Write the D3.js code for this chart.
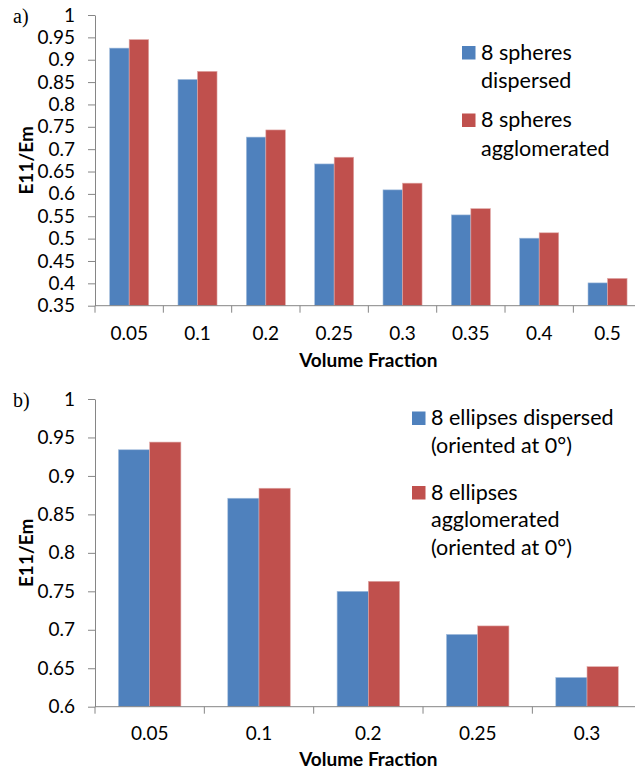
<!DOCTYPE html>
<html lang="en">
<head>
  <style>
    body { margin: 0; background: #fff; }
    svg { display: block; }
    .tick text { font-family: Lato, "Open Sans", sans-serif; font-size: 19px; fill: #000; }
    .axis path, .axis line { stroke: #868686; }
    .axis-title { font-family: Lato, sans-serif; font-size: 19px; font-weight: bold; }
    .panel-label { font-family: "Liberation Serif", serif; font-size: 20px; }
    .legend text { font-family: Lato, sans-serif; font-size: 21.5px; }
  </style>
  <script src="https://d3js.org/d3.v7.min.js"></script>
</head>
<body>
  <script>
    // panel a) spheres
    const catsA = ["0.05", "0.1", "0.2", "0.25", "0.3", "0.35", "0.4", "0.5"];
    const dispersedA = [0.926, 0.856, 0.727, 0.667, 0.609, 0.553, 0.501, 0.401];
    const agglomA = [0.945, 0.874, 0.743, 0.682, 0.624, 0.567, 0.513, 0.411];
    const yTicksA = [0.35, 0.4, 0.45, 0.5, 0.55, 0.6, 0.65, 0.7, 0.75, 0.8, 0.85, 0.9, 0.95, 1];
    const legendA = [["8 spheres", "dispersed"], ["8 spheres", "agglomerated"]];

    // panel b) ellipses
    const catsB = ["0.05", "0.1", "0.2", "0.25", "0.3"];
    const dispersedB = [0.934, 0.871, 0.750, 0.694, 0.638];
    const agglomB = [0.944, 0.884, 0.763, 0.705, 0.652];
    const yTicksB = [0.6, 0.65, 0.7, 0.75, 0.8, 0.85, 0.9, 0.95, 1];
    const legendB = [["8 ellipses dispersed", "(oriented at 0°)"], ["8 ellipses", "agglomerated", "(oriented at 0°)"]];

    const colors = ["#4f81bd", "#c0504d"];
    const strokes = ["#a7c0de", "#e0a9a7"];

    const svg = d3.select("body").append("svg")
      .attr("width", 635)
      .attr("height", 772);

    function drawPanel(o) {
      const g = svg.append("g");
      const x0 = d3.scaleBand().domain(o.cats).range([o.left, o.right]);
      const x1 = d3.scaleBand().domain([0, 1]).range([0, x0.step()]).paddingOuter(0.75);
      const y = d3.scaleLinear().domain([o.yTicks[0], 1]).range([o.bottom, o.top]);

      const rows = o.cats.map((c, i) => ({ cat: c, vals: [o.s1[i], o.s2[i]] }));
      g.selectAll(".grp").data(rows).join("g")
        .attr("transform", d => `translate(${x0(d.cat)},0)`)
        .selectAll("rect").data(d => d.vals.map((v, k) => ({ v, k }))).join("rect")
        .attr("x", d => x1(d.k))
        .attr("width", x1.bandwidth())
        .attr("y", d => y(d.v))
        .attr("height", d => y(o.yTicks[0]) - y(d.v))
        .attr("fill", d => colors[d.k])
        .attr("stroke", d => strokes[d.k])
        .attr("stroke-width", 0.6);

      // y axis
      g.append("g").attr("class", "axis")
        .attr("transform", `translate(${o.left},0)`)
        .call(d3.axisLeft(y).tickValues(o.yTicks).tickSize(7).tickSizeOuter(0).tickPadding(13)
          .tickFormat(d => String(+d.toFixed(2))));

      // x axis: line + boundary ticks + centred labels
      const xa = g.append("g").attr("class", "axis").attr("transform", `translate(0,${o.bottom})`);
      xa.append("line").attr("x1", o.left).attr("x2", o.right).attr("stroke", "#868686");
      const bounds = o.cats.map(c => x0(c)).concat([x0.range()[1]]);
      xa.selectAll(".bt").data(bounds).join("line")
        .attr("x1", d => d).attr("x2", d => d).attr("y1", 0).attr("y2", 7)
        .attr("stroke", "#868686");
      xa.selectAll(".xl").data(o.cats).join("text")
        .attr("x", d => x0(d) + x0.bandwidth() / 2)
        .attr("y", o.xLabelDy)
        .attr("text-anchor", "middle")
        .style("font-family", "Lato, sans-serif").style("font-size", "19px")
        .text(d => d);

      g.append("text").attr("class", "axis-title")
        .attr("x", (o.left + o.right) / 2).attr("y", o.bottom + o.xTitleDy)
        .attr("text-anchor", "middle").text("Volume Fraction");

      g.append("text").attr("class", "axis-title")
        .attr("transform", `translate(33,${(o.top + o.bottom) / 2}) rotate(-90)`)
        .attr("text-anchor", "middle").text("E11/Em");

      g.append("text").attr("class", "panel-label")
        .attr("x", 13).attr("y", o.top + o.labelDy).text(o.label);

      // legend
      const lg = g.append("g").attr("class", "legend");
      o.legend.forEach((lines, k) => {
        const y0 = o.legendY[k];
        lg.append("rect")
          .attr("x", o.legendX).attr("y", y0 - 13.5)
          .attr("width", 13.5).attr("height", 13.5)
          .attr("fill", colors[k]);
        const t = lg.append("text").attr("x", o.legendX + 19).attr("y", y0);
        lines.forEach((s, j) => {
          t.append("tspan").attr("x", o.legendX + 19).attr("dy", j ? o.lineH : 0).text(s);
        });
      });
    }

    drawPanel({
      cats: catsA, s1: dispersedA, s2: agglomA, yTicks: yTicksA, legend: legendA,
      left: 95, right: 641.7, top: 15, bottom: 305.7,
      xLabelDy: 34, xTitleDy: 61, labelDy: 8, label: "a)",
      legendX: 462, legendY: [59.5, 127], lineH: 28.5
    });

    drawPanel({
      cats: catsB, s1: dispersedB, s2: agglomB, yTicks: yTicksB, legend: legendB,
      left: 95, right: 641.7, top: 399, bottom: 706.7,
      xLabelDy: 33, xTitleDy: 59, labelDy: 8, label: "b)",
      legendX: 412, legendY: [425, 499.5], lineH: 27.6
    });
  </script>
</body>
</html>
